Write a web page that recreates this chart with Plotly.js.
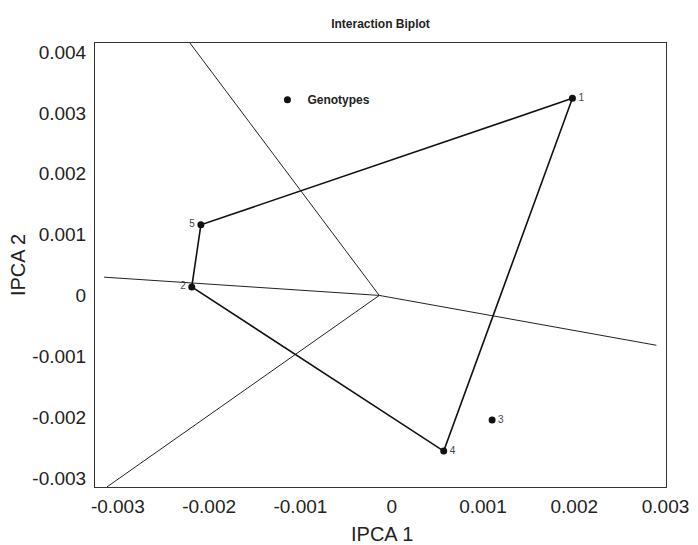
<!DOCTYPE html>
<html>
<head>
<meta charset="utf-8">
<script src="https://cdn.plot.ly/plotly-3.0.1.min.js"></script>
<style>html,body{margin:0;padding:0;background:#fff;}#chart{width:698px;height:545px;}</style>
</head>
<body>
<div id="chart"></div>
<script>
// Genotype scores (IPCA 1, IPCA 2)
var genotypes = ['1', '2', '3', '4', '5'];
var genoX = [0.00198, -0.00219, 0.00110, 0.00057, -0.00209];
var genoY = [0.00324, 0.00014, -0.00205, -0.00256, 0.00116];
var labelPos = ['middle right', 'middle left', 'middle right', 'middle right', 'middle left'];

// Convex hull (polygon) order of genotypes
var hullOrder = ['1', '4', '2', '5', '1'];

// Environment vectors: common origin and end points
var originX = -0.000136;
var originY = 0;
var envX = [-0.00221, -0.00315, 0.00290, -0.00312];
var envY = [0.00415, 0.00030, -0.00082, -0.00315];

// Axis ticks
var xTicks = [-0.003, -0.002, -0.001, 0, 0.001, 0.002, 0.003];
var xTickText = ['-0.003', '-0.002', '-0.001', '0', '0.001', '0.002', '0.003'];
var yTicks = [-0.003, -0.002, -0.001, 0, 0.001, 0.002, 0.003, 0.004];
var yTickText = ['-0.003', '-0.002', '-0.001', '0', '0.001', '0.002', '0.003', '0.004'];

var FONT = 'Liberation Sans, Arial, sans-serif';

var traces = [];

// environment vector lines
for (var i = 0; i < envX.length; i++) {
  traces.push({
    x: [originX, envX[i]], y: [originY, envY[i]],
    mode: 'lines', type: 'scatter', showlegend: false, hoverinfo: 'skip',
    line: {color: '#222', width: 1}
  });
}

// polygon
var hx = [], hy = [];
hullOrder.forEach(function (g) {
  var k = genotypes.indexOf(g);
  hx.push(genoX[k]); hy.push(genoY[k]);
});
traces.push({
  x: hx, y: hy, mode: 'lines', type: 'scatter', showlegend: false, hoverinfo: 'skip',
  line: {color: '#111', width: 1.6}
});

// genotype points (legend)
traces.push({
  x: genoX, y: genoY, mode: 'markers', type: 'scatter', name: 'Genotypes',
  marker: {color: '#111', size: 7}
});
// genotype labels (invisible markers give the text its offset)
traces.push({
  x: genoX, y: genoY, mode: 'markers+text', type: 'scatter', showlegend: false,
  marker: {size: 8, opacity: 0},
  text: genotypes, textposition: labelPos,
  textfont: {family: FONT, size: 10, color: '#444'}
});

var layout = {
  width: 698, height: 545,
  margin: {l: 95, r: 32, t: 43, b: 58},
  paper_bgcolor: '#fff', plot_bgcolor: '#fff',
  font: {family: FONT, color: '#222'},
  title: {
    text: '<b>Interaction Biplot</b>',
    font: {family: FONT, size: 12, color: '#222'},
    x: 0.5, xref: 'paper', xanchor: 'center',
    y: 1 - 24 / 545, yref: 'container', yanchor: 'middle'
  },
  showlegend: true,
  legend: {
    x: 0.302, y: 0.905, xanchor: 'left', yanchor: 'top',
    bgcolor: 'rgba(0,0,0,0)', borderwidth: 0,
    font: {family: FONT, size: 12, color: '#222', weight: 'bold'}
  },
  annotations: [{
    text: 'IPCA 1', xref: 'paper', yref: 'paper',
    x: 0.502, y: -0.106, xanchor: 'center', yanchor: 'middle',
    showarrow: false, font: {family: FONT, size: 20, color: '#222'}
  }],
  xaxis: {
    range: [-0.00325, 0.003005],
    tickvals: xTicks, ticktext: xTickText,
    showgrid: false, zeroline: false,
    showline: true, mirror: true, linecolor: '#333', linewidth: 1,
    ticks: '', ticklabelstandoff: 2,
    tickfont: {family: FONT, size: 19, color: '#222'},
    automargin: false
  },
  yaxis: {
    range: [-0.00315, 0.00415],
    tickvals: yTicks, ticktext: yTickText,
    showgrid: false, zeroline: false,
    showline: true, mirror: true, linecolor: '#333', linewidth: 1,
    ticks: '', ticklabelstandoff: 4,
    tickfont: {family: FONT, size: 19, color: '#222'},
    title: {text: 'IPCA 2', font: {family: FONT, size: 20, color: '#222'}, standoff: 1},
    automargin: false
  }
};

Plotly.newPlot('chart', traces, layout, {displayModeBar: false, staticPlot: true});
</script>
</body>
</html>
